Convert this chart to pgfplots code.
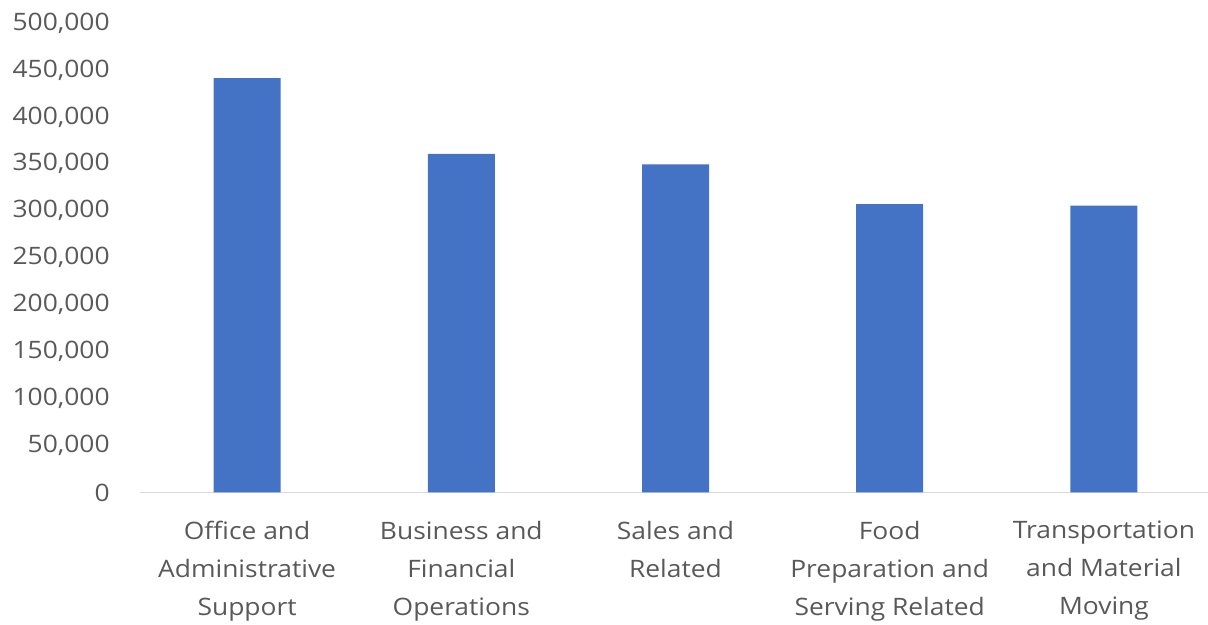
\documentclass[border=0pt]{standalone}
\usepackage{fontspec}
\setmainfont[FakeStretch=1.1]{Open Sans}
\usepackage{pgfplots}
\pgfplotsset{compat=1.18}
\definecolor{barblue}{HTML}{4472C4}
\definecolor{txtgray}{HTML}{595959}
\definecolor{axgray}{HTML}{D9D9D9}
\begin{document}
\begin{tikzpicture}
\useasboundingbox (-70pt,-66.25pt) rectangle (534pt,246.25pt);
\begin{axis}[
  at={(0pt,0pt)}, anchor=south west,
  scale only axis, width=535.5pt, height=234.75pt,
  xmin=-0.5, xmax=4.5, ymin=0, ymax=500000,
  axis x line*=bottom, axis y line*=left,
  y axis line style={draw=none},
  x axis line style={draw=axgray, line width=0.8pt, -},
  major tick length=0pt,
  ytick={0,50000,...,500000}, scaled y ticks=false,
  /pgf/number format/assume math mode=true,
  yticklabel style={/pgf/number format/fixed, /pgf/number format/1000 sep={,},
    font=\fontsize{12}{14}\selectfont, text=txtgray, anchor=east, inner sep=0pt, xshift=-15pt},
  xtick={0,1,2,3,4},
  xticklabels={{Office and\\Administrative\\Support},{Business and\\Financial\\Operations},{Sales and\\Related},{Food\\Preparation and\\Serving Related},{Transportation\\and Material\\Moving}},
  xticklabel style={font=\fontsize{12}{19}\selectfont, text=txtgray, align=center, anchor=north, inner sep=0pt, yshift=-14pt},
  ybar, bar width=33.5pt,
]
\addplot[fill=barblue, draw=none] coordinates {(0,441400) (1,360500) (2,349500) (3,307200) (4,305400)};
\end{axis}
\end{tikzpicture}
\end{document}
